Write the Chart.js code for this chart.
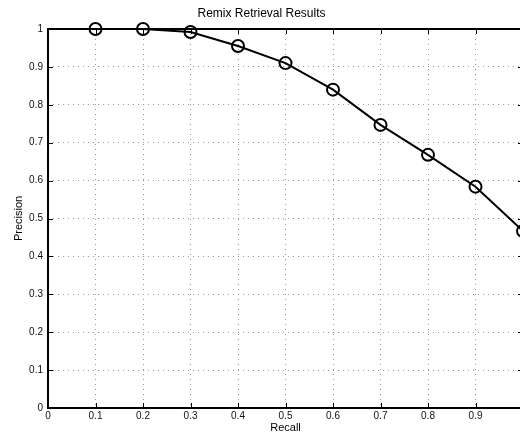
<!DOCTYPE html>
<html>
<head>
<meta charset="utf-8">
<script src="https://cdn.jsdelivr.net/npm/chart.js@4/dist/chart.umd.min.js"></script>
<style>
  html, body { margin: 0; padding: 0; background: #fff; overflow: hidden; }
  #wrap { width: 520px; height: 435px; overflow: hidden; }
</style>
</head>
<body>
<div id="wrap"><canvas id="myChart" width="540" height="435"></canvas></div>
<script>
var recall = [0.1, 0.2, 0.3, 0.4, 0.5, 0.6, 0.7, 0.8, 0.9, 1.0];
var precision = [1.0, 1.0, 0.992, 0.955, 0.91, 0.84, 0.747, 0.668, 0.584, 0.467];
var xTicks = [0, 0.1, 0.2, 0.3, 0.4, 0.5, 0.6, 0.7, 0.8, 0.9, 1];
var yTicks = [0, 0.1, 0.2, 0.3, 0.4, 0.5, 0.6, 0.7, 0.8, 0.9, 1];

var fontFamily = "'Liberation Sans', Arial, Helvetica, sans-serif";

// matlab style frame with inward ticks
var frame = {
  id: "frame",
  afterDatasetsDraw: function (chart) {
    var ctx = chart.ctx;
    var a = chart.chartArea;
    var x = chart.scales.x;
    var y = chart.scales.y;
    ctx.save();
    ctx.strokeStyle = "#000";
    ctx.lineWidth = 1;
    ctx.beginPath();
    x.ticks.forEach(function (t) {
      var px = Math.round(x.getPixelForValue(t.value)) + 0.5;
      ctx.moveTo(px, a.bottom);
      ctx.lineTo(px, a.bottom - 5);
      ctx.moveTo(px, a.top);
      ctx.lineTo(px, a.top + 5);
    });
    y.ticks.forEach(function (t) {
      var py = Math.round(y.getPixelForValue(t.value)) + 0.5;
      ctx.moveTo(a.left, py);
      ctx.lineTo(a.left + 5, py);
      ctx.moveTo(a.right, py);
      ctx.lineTo(a.right - 5, py);
    });
    ctx.stroke();
    ctx.lineWidth = 2;
    ctx.strokeRect(a.left, a.top, a.right - a.left, a.bottom - a.top);
    ctx.restore();
  },
};

var points = recall.map(function (r, i) {
  return { x: r, y: precision[i] };
});

var ctx = document.getElementById("myChart").getContext("2d");
var myChart = new Chart(ctx, {
  type: "line",
  data: {
    datasets: [
      {
        data: points,
        borderColor: "#000",
        borderWidth: 2,
        pointRadius: 6,
        pointBorderWidth: 2,
        pointBorderColor: "#000",
        pointBackgroundColor: "rgba(0,0,0,0)",
        tension: 0,
        clip: false,
      },
    ],
  },
  options: {
    responsive: false,
    animation: false,
    layout: { padding: { left: 0, right: 17, top: 0, bottom: 0 } },
    plugins: {
      legend: { display: false },
      tooltip: { enabled: false },
      title: {
        display: true,
        text: "Remix Retrieval Results",
        color: "#000",
        font: { family: fontFamily, size: 12, weight: "normal" },
        padding: { top: 6, bottom: 8.6 },
      },
    },
    scales: {
      x: {
        type: "linear",
        min: 0,
        max: 1,
        afterBuildTicks: function (scale) {
          scale.ticks = xTicks.map(function (v) { return { value: v }; });
        },
        afterFit: function (scale) {
          scale.height = 27;
        },
        ticks: {
          color: "#111",
          padding: 2,
          maxRotation: 0,
          font: { family: fontFamily, size: 10 },
          callback: function (v) { return String(+v.toFixed(1)); },
        },
        grid: { color: "#999", lineWidth: 1, drawTicks: false },
        border: { display: false, dash: [1, 4] },
        title: {
          display: true,
          text: "Recall",
          color: "#000",
          padding: { top: 0, bottom: 0 },
          font: { family: fontFamily, size: 11 },
        },
      },
      y: {
        type: "linear",
        min: 0,
        max: 1,
        afterBuildTicks: function (scale) {
          scale.ticks = yTicks.map(function (v) { return { value: v }; });
        },
        afterFit: function (scale) {
          scale.width = 48;
        },
        ticks: {
          color: "#111",
          padding: 5,
          font: { family: fontFamily, size: 10 },
          callback: function (v) { return String(+v.toFixed(1)); },
        },
        grid: { color: "#999", lineWidth: 1, drawTicks: false },
        border: { display: false, dash: [1, 4] },
        title: {
          display: true,
          text: "Precision",
          color: "#000",
          padding: { top: 12, bottom: 0 },
          font: { family: fontFamily, size: 11 },
        },
      },
    },
  },
  plugins: [frame],
});
</script>
</body>
</html>
